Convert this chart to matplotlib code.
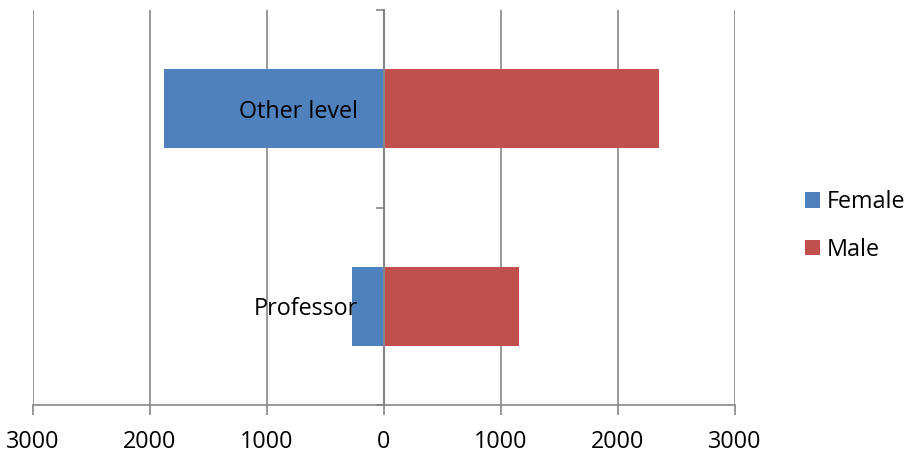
import matplotlib
matplotlib.use('Agg')
from matplotlib import pyplot as plt
from matplotlib.ticker import FuncFormatter
import numpy as np

plt.rcParams['font.family'] = ['Open Sans', 'DejaVu Sans']

categories = ["Professor", "Other level"]
female = [270, 1880]
male = [1150, 2350]
xticks = [-3000, -2000, -1000, 0, 1000, 2000, 3000]

blue = '#4F81BD'
red = '#C0504D'
gray = '#868686'
fs = 16.8

fig = plt.figure(figsize=(9.09, 4.53), dpi=100)
ax = fig.add_axes([33 / 909, 1 - 405 / 453, (735 - 33) / 909, 395 / 453])

ypos = np.arange(len(categories)) + 0.5
height = 0.4

# gridlines behind the bars
ax.vlines(xticks, 0, len(categories), colors=gray, linewidth=1.2, zorder=0.5)

ax.barh(ypos, [-v for v in female], height, color=blue, label='Female', zorder=1)
ax.barh(ypos, male, height, color=red, label='Male', zorder=1)

ax.set_xlim(xticks[0], xticks[-1])
ax.set_ylim(0, len(categories))
ax.set_xticks(xticks)
ax.xaxis.set_major_formatter(FuncFormatter(lambda v, p: '%d' % abs(v)))
ax.tick_params(axis='x', direction='out', length=7, width=1.2, color=gray,
               labelsize=fs, pad=11)

# category axis sits at x = 0
ax.spines['left'].set_position(('data', 0))
ax.spines['left'].set_color(gray)
ax.spines['left'].set_linewidth(1.5)
ax.spines['left'].set_zorder(3)
ax.spines['bottom'].set_color(gray)
ax.spines['bottom'].set_linewidth(1.2)
for s in ['top', 'right']:
    ax.spines[s].set_visible(False)

ax.set_yticks(ypos)
ax.set_yticklabels(categories)
ax.set_yticks(np.arange(len(categories) + 1), minor=True)
ax.tick_params(axis='y', which='major', length=0, labelsize=fs, pad=19)
ax.tick_params(axis='y', which='minor', direction='out', length=6, width=1.2, color=gray)

fig.legend(loc='center left', bbox_to_anchor=(805 / 909, 1 - 226 / 453),
           frameon=False, fontsize=fs, handlelength=0.65, handleheight=0.65,
           handletextpad=0.3, labelspacing=1.0, borderpad=0, borderaxespad=0)

fig.savefig('out.png', dpi=100)
